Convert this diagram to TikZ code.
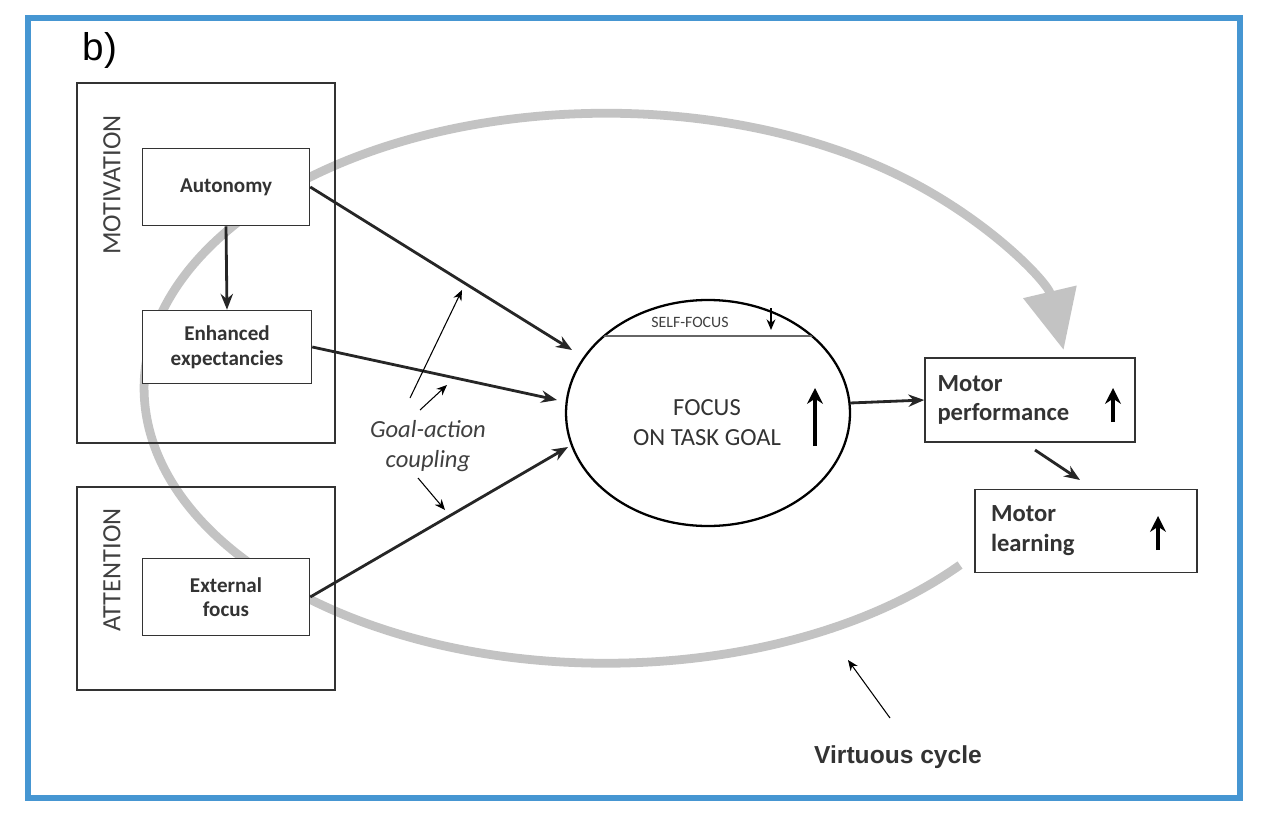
\documentclass[tikz,border=0pt]{standalone}
\usepackage{fontspec}
\setmainfont{Carlito}
\newfontfamily\arialf{Liberation Sans}
\usetikzlibrary{arrows.meta,positioning}
\definecolor{frameblue}{RGB}{70,150,210}
\definecolor{cyclegray}{RGB}{195,195,195}
\tikzset{
  box/.style={draw=black!80, line width=0.9pt, inner sep=0pt},
  lbl/.style={font=\bfseries\fontsize{12}{14}\selectfont, align=center, text=black!80},
  arr/.style={-{Stealth[length=9pt,width=7pt]}, line width=1.6pt, black!85},
  thin arr/.style={-{Stealth[length=6pt,width=5pt]}, line width=0.6pt},
  up arr/.style={-{Stealth[length=9pt,width=9pt]}, line width=2.2pt},
}
\begin{document}
\begin{tikzpicture}[x=0.02cm,y=-0.02cm]
  \useasboundingbox (0,0) rectangle (1264,818);
  \draw[frameblue, line width=3pt] (28,18) rectangle (1240,798);
  \node[font=\arialf\fontsize{22}{24}\selectfont] (tag) at (100,50) {b)};

  % gray cycle
  \draw[cyclegray, line width=5pt, -{Triangle[length=34pt,width=30pt]}]
    (960,565) arc[start angle=40, end angle=352, x radius=462, y radius=275];

  % left boxes
  \draw[box] (77,83) rectangle (335,443);
  \node[rotate=90, font=\fontsize{15}{17}\selectfont, text=black!75] (mot) at (112,185) {MOTIVATION};
  \draw[box] (77,487) rectangle (335,690);
  \node[rotate=90, font=\fontsize{15}{17}\selectfont, text=black!75] (att) at (112,570) {ATTENTION};

  \node[box, lbl, minimum width=3.34cm, minimum height=1.54cm, fill=white] (auto) at (226,187) {Autonomy};
  \node[box, lbl, minimum width=3.38cm, minimum height=1.46cm, fill=white] (enh) at (227,347) {Enhanced\\expectancies};
  \node[box, lbl, minimum width=3.34cm, minimum height=1.54cm, fill=white] (ext) at (226,597) {External\\focus};

  % central ellipse
  \draw[line width=1.3pt, fill=white] (708,413) ellipse[x radius=142, y radius=113];
  \begin{scope}
    \clip (708,413) ellipse[x radius=142, y radius=113];
    \draw[line width=1pt, black!60] (560,336) -- (860,336);
  \end{scope}
  \node[font=\fontsize{9}{10}\selectfont, text=black!75] (self) at (690,322) {SELF-FOCUS};
  \draw[thin arr, line width=1pt] (771,308) -- (771,330);
  \node[font=\fontsize{14}{17}\selectfont, align=center, text=black!80] (focus) at (707,423) {FOCUS\\ON TASK GOAL};
  \draw[up arr] (815,446) -- (815,388);
  \coordinate (ein) at (572,350);
  \coordinate (ein2) at (557,400);
  \coordinate (ein3) at (568,447);
  \coordinate (eout) at (850,403);

  % right boxes
  \node[box, lbl, font=\bfseries\fontsize{14}{17}\selectfont, align=left, minimum width=4.2cm, minimum height=1.68cm, text width=3.7cm, fill=white] (perf) at (1030,400) {Motor\\performance};
  \draw[up arr] (1113,422) -- (1113,388);
  \node[box, lbl, font=\bfseries\fontsize{14}{17}\selectfont, align=left, minimum width=4.44cm, minimum height=1.66cm, text width=3.8cm, fill=white] (learn) at (1086,531) {Motor\\learning};
  \draw[up arr] (1158,550) -- (1158,516);

  % connectors
  \draw[arr] (auto.south) -- (enh.north);
  \draw[arr] (auto.east) -- (ein);
  \draw[arr] (enh.east) -- (ein2);
  \draw[arr] (ext.east) -- (ein3);
  \draw[arr] (eout) -- (perf.west);
  \coordinate (pl) at (1035,450);
  \coordinate (ll) at (1080,480);
  \draw[arr] (pl) -- (ll);

  % goal-action coupling
  \node[font=\itshape\fontsize{14}{17}\selectfont, align=center, text=black!75] (gac) at (428,446) {Goal-action\\coupling};
  \coordinate (g1) at (462,290);
  \coordinate (g2) at (447,385);
  \coordinate (g3) at (445,510);
  \draw[thin arr] (410,398) -- (g1);
  \draw[thin arr] (420,410) -- (g2);
  \draw[thin arr] (418,478) -- (g3);

  % virtuous cycle
  \node[font=\arialf\bfseries\fontsize{14}{17}\selectfont, text=black!80] (vc) at (898,757) {Virtuous cycle};
  \coordinate (vt) at (848,660);
  \draw[thin arr] (890,718) -- (vt);
\end{tikzpicture}
\end{document}
